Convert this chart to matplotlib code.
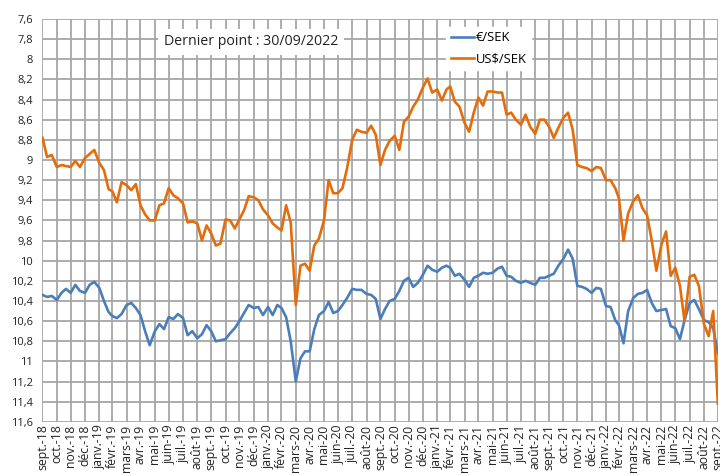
import numpy as np
import pandas as pd
import matplotlib
matplotlib.use("Agg")
import matplotlib.pyplot as plt

# French month abbreviations used on the date axis
mois = ['janv.', 'févr.', 'mars', 'avr.', 'mai', 'juin',
        'juil.', 'août', 'sept.', 'oct.', 'nov.', 'déc.']

# three readings per month (month end, +10 days, +20 days), Sep-18 .. Aug-22
usd_sek = [8.78, 8.97, 8.95, 9.07, 9.05, 9.06, 9.07, 9.01, 9.07, 8.98, 8.94, 8.90,
           9.03, 9.10, 9.29, 9.31, 9.42, 9.22, 9.25, 9.30, 9.24, 9.45, 9.54, 9.60,
           9.60, 9.45, 9.43, 9.28, 9.35, 9.38, 9.43, 9.62, 9.61, 9.63, 9.80, 9.65,
           9.73, 9.85, 9.83, 9.59, 9.60, 9.68, 9.59, 9.50, 9.36, 9.37, 9.40, 9.49,
           9.55, 9.63, 9.67, 9.70, 9.45, 9.62, 10.44, 10.05, 10.03, 10.10, 9.85, 9.78,
           9.60, 9.20, 9.33, 9.33, 9.28, 9.08, 8.80, 8.70, 8.72, 8.73, 8.66, 8.75,
           9.05, 8.90, 8.81, 8.76, 8.90, 8.62, 8.57, 8.47, 8.40, 8.28, 8.19, 8.33,
           8.30, 8.41, 8.30, 8.27, 8.42, 8.47, 8.63, 8.72, 8.53, 8.38, 8.46, 8.32,
           8.32, 8.33, 8.33, 8.55, 8.53, 8.60, 8.65, 8.55, 8.67, 8.74, 8.60, 8.60,
           8.67, 8.78, 8.68, 8.58, 8.53, 8.70, 9.05, 9.07, 9.08, 9.11, 9.07, 9.08,
           9.20, 9.20, 9.28, 9.38, 9.80, 9.53, 9.41, 9.35, 9.48, 9.55, 9.80, 10.10,
           9.84, 9.71, 10.15, 10.07, 10.25, 10.60, 10.16, 10.14, 10.25, 10.63, 10.75, 10.50,
           11.42]

eur_sek = [10.34, 10.36, 10.35, 10.39, 10.32, 10.28, 10.32, 10.24, 10.30, 10.32, 10.24, 10.21,
           10.27, 10.40, 10.51, 10.55, 10.57, 10.53, 10.44, 10.42, 10.47, 10.54, 10.70, 10.84,
           10.70, 10.63, 10.68, 10.56, 10.58, 10.53, 10.57, 10.74, 10.70, 10.77, 10.73, 10.64,
           10.70, 10.80, 10.79, 10.78, 10.72, 10.67, 10.60, 10.52, 10.44, 10.47, 10.46, 10.54,
           10.46, 10.54, 10.44, 10.47, 10.56, 10.80, 11.20, 10.97, 10.90, 10.90, 10.68, 10.54,
           10.50, 10.41, 10.52, 10.50, 10.44, 10.37, 10.28, 10.29, 10.29, 10.33, 10.34, 10.38,
           10.58, 10.48, 10.40, 10.38, 10.30, 10.20, 10.17, 10.26, 10.22, 10.14, 10.05, 10.09,
           10.11, 10.07, 10.05, 10.07, 10.15, 10.13, 10.19, 10.26, 10.17, 10.15, 10.12, 10.13,
           10.12, 10.08, 10.06, 10.15, 10.16, 10.20, 10.22, 10.20, 10.22, 10.24, 10.17, 10.17,
           10.15, 10.13, 10.05, 9.98, 9.89, 9.98, 10.25, 10.26, 10.28, 10.32, 10.27, 10.28,
           10.45, 10.46, 10.59, 10.64, 10.82, 10.50, 10.37, 10.33, 10.32, 10.29, 10.42, 10.50,
           10.49, 10.48, 10.65, 10.67, 10.78, 10.59, 10.42, 10.39, 10.48, 10.59, 10.61, 10.67,
           10.92]

y_ticks = np.arange(7.6, 11.61, 0.2)

ticks = pd.date_range('2018-09-30', '2022-09-30', freq='ME')
dates = [d + pd.Timedelta(days=k) for d in ticks[:-1] for k in (0, 10, 20)]
dates.append(ticks[-1])

plt.rcParams['font.family'] = ['Open Sans', 'DejaVu Sans']

fig = plt.figure(figsize=(7.2, 4.75), dpi=100)
ax = fig.add_axes([0.059, 0.112, 0.938, 0.848])

ax.plot(dates, eur_sek, color='#4a7ebb', lw=1.9, label='€/SEK', zorder=3)
ax.plot(dates, usd_sek, color='#e46c0a', lw=1.9, label='US$/SEK', zorder=3)

ax.set_xlim(ticks[0], ticks[-1])
ax.set_ylim(11.6, 7.6)

ax.set_yticks(y_ticks)
ax.set_yticklabels([('%g' % round(v, 1)).replace('.', ',') for v in y_ticks], fontsize=8)
ax.set_xticks(ticks)
ax.set_xticklabels(['%s-%02d' % (mois[d.month - 1], d.year % 100) for d in ticks],
                   rotation=90, fontsize=8.8, va='top')
ax.tick_params(axis='both', length=0, colors='#222222')
ax.tick_params(axis='y', pad=7)
ax.tick_params(axis='x', pad=2)

ax.grid(True, color='#a6a6a6', lw=1.3)
ax.set_axisbelow(True)
for s in ax.spines.values():
    s.set_visible(False)

ax.text(0.309, 0.943, 'Dernier point : 30/09/2022', transform=ax.transAxes,
        ha='center', va='center', fontsize=10.2, color='#222222', zorder=5,
        bbox=dict(boxstyle='square,pad=0.4', fc='white', ec='none'))

leg = ax.legend(loc='upper left', bbox_to_anchor=(0.588, 0.997), fontsize=9.4,
                frameon=True, fancybox=False, framealpha=1, edgecolor='white',
                handlelength=1.8, handletextpad=0.1, labelspacing=0.6,
                borderpad=0.35)
leg.set_zorder(5)

fig.savefig('out.png', dpi=100)
